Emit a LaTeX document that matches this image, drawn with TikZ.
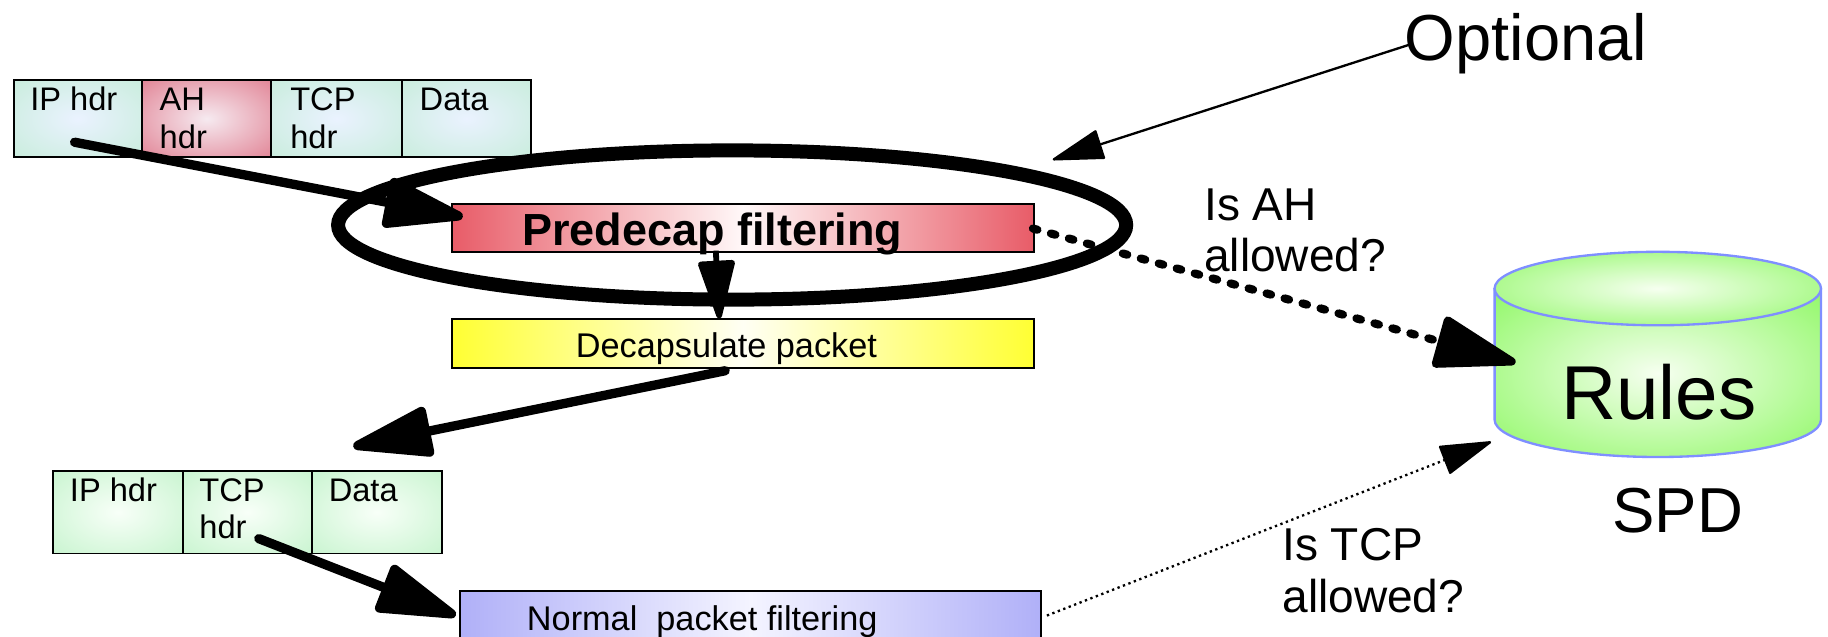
\documentclass[tikz,border=0pt]{standalone}
\usepackage{fontspec}
\setmainfont{Liberation Sans}
\usetikzlibrary{arrows.meta,shapes.geometric}
\newcommand{\fsz}[1]{\fontsize{#1}{#1}\selectfont}
\definecolor{cellgreen}{HTML}{BCEBCF}
\definecolor{cellmid}{HTML}{EAF2FF}
\definecolor{lowgreen}{HTML}{B6F0C0}
\definecolor{lowmid}{HTML}{F8FFF8}
\definecolor{ahred}{HTML}{D95C72}
\definecolor{ahmid}{HTML}{F6EAF0}
\definecolor{barred}{HTML}{E85C68}
\definecolor{barredmid}{HTML}{FFF8F8}
\definecolor{baryel}{HTML}{FFFF33}
\definecolor{baryelmid}{HTML}{FFFFF4}
\definecolor{barblue}{HTML}{B0B0F8}
\definecolor{barbluemid}{HTML}{F4F4FF}
\definecolor{cylgreen}{HTML}{66F52E}
\definecolor{cylmid}{HTML}{F6FFF0}
\definecolor{cylline}{HTML}{7F8FFF}
\pgfdeclareradialshading{shgreen}{\pgfpointorigin}{color(0bp)=(cellmid); color(50bp)=(cellgreen); color(75bp)=(cellgreen)}
\pgfdeclareradialshading{shred}{\pgfpointorigin}{color(0bp)=(ahmid); color(50bp)=(ahred); color(75bp)=(ahred)}
\pgfdeclareradialshading{shlow}{\pgfpointorigin}{color(0bp)=(lowmid); color(50bp)=(lowgreen); color(75bp)=(lowgreen)}
\pgfdeclareradialshading{shcyl}{\pgfpointorigin}{color(0bp)=(cylmid); color(50bp)=(cylgreen); color(75bp)=(cylgreen)}
\tikzset{
  box/.style={draw=black,line width=1.6pt,inner sep=0pt,anchor=north west},
  gcell/.style={box,shade,shading=shgreen},
  rcell/.style={box,shade,shading=shred},
  lcell/.style={box,shade,shading=shlow},
  redbar/.style={box,left color=barred,right color=barred,middle color=barredmid,minimum width=499pt,minimum height=41pt},
  yelbar/.style={box,left color=baryel,right color=baryel,middle color=baryelmid,minimum width=499pt,minimum height=42pt},
  bluebar/.style={box,left color=barblue,right color=barblue,middle color=barbluemid,minimum width=498pt,minimum height=60pt},
  cyl/.style={draw=cylline,line width=2pt,shade,shading=shcyl},
  txt/.style={anchor=base west,inner sep=0pt,outer sep=0pt,text=black},
  small/.style={txt,font=\fsz{28}},
  mid/.style={txt,font=\fsz{29.4}},
  note/.style={txt,font=\fsz{39.5}},
  bigarrow/.style={line width=8pt,line cap=round,-{Triangle[length=78pt,width=44pt,round]}},
  thinarrow/.style={line width=2pt,-{Triangle[length=46pt,width=26pt,round]}}
}
\begin{document}
\begin{tikzpicture}[x=1pt,y=-1pt]
\path[use as bounding box,clip] (0,0) rectangle (1568,546);
% top packet
\node[gcell,minimum width=110pt,minimum height=66pt] (c1) at (11,68) {};
\node[rcell,minimum width=111pt,minimum height=66pt] (c2) at (121,68) {};
\node[gcell,minimum width=112pt,minimum height=66pt] (c3) at (232,68) {};
\node[gcell,minimum width=111pt,minimum height=66pt] (c4) at (344,68) {};
\node[small] (t1) at (26,95) {IP hdr};
\node[small] (t2) at (137,95) {AH};
\node[small] (t3) at (137,127) {hdr};
\node[small] (t4) at (249,95) {TCP};
\node[small] (t5) at (249,127) {hdr};
\node[small] (t6) at (360,95) {Data};
% filters
\node[redbar] (pre) at (387,174) {};
\node[yelbar] (dec) at (387,273) {};
\node[bluebar] (nor) at (394,506) {};
\node[txt,font=\fsz{38.6}\bfseries] (tpre) at (448,211) {Predecap filtering};
\node[mid] (tdec) at (494,307) {Decapsulate packet};
\node[mid] (tnor) at (452,541) {Normal\ \ packet filtering};
% lower packet
\node[lcell,minimum width=111pt,minimum height=71pt] (l1) at (45,403) {};
\node[lcell,minimum width=111pt,minimum height=71pt] (l2) at (156,403) {};
\node[lcell,minimum width=111pt,minimum height=71pt] (l3) at (267,403) {};
\node[small] (u1) at (60,430) {IP hdr};
\node[small] (u2) at (171,430) {TCP};
\node[small] (u3) at (171,462) {hdr};
\node[small] (u4) at (282,430) {Data};
% database
\path[cyl]
  (1282,248) -- (1282,360) arc[start angle=180,end angle=0,x radius=140,y radius=32] -- (1562,248) -- cycle;
\node[cyl,ellipse,inner sep=0pt,minimum width=280pt,minimum height=63pt] (top) at (1422,247.5) {};
\node[txt,font=\fsz{65.5}] (rules) at (1339,360) {Rules};
\node[txt,font=\fsz{54.5}] (spd) at (1383,457) {SPD};
% ring
\node[draw=black,line width=12pt,ellipse,inner sep=0pt,minimum width=676pt,minimum height=128pt] (ring) at (628,193) {};
% labels
\node[txt,font=\fsz{55.8}] (opt) at (1205,52) {Optional};
\node[note] (q1) at (1033,189) {Is AH};
\node[note] (q2) at (1033,233) {allowed?};
\node[note] (q3) at (1100,481) {Is TCP};
\node[note] (q4) at (1100,525) {allowed?};
% connector ends
\coordinate (a0) at (64,122);
\coordinate (a1) at (397,186);
\coordinate (b0) at (614,215);
\coordinate (b1) at (617,273);
\coordinate (d0) at (622,318);
\coordinate (d1) at (303,383);
\coordinate (e0) at (222,462);
\coordinate (e1) at (391,528);
\coordinate (f0) at (886,196);
\coordinate (f1) at (1300,311);
\coordinate (g0) at (898,528);
\coordinate (g1) at (1279,379);
\coordinate (h0) at (1210,38);
\coordinate (h1) at (903,137);
\draw[bigarrow] (a0) -- (a1);
\draw[line width=5pt,-{Triangle[length=56pt,width=32pt,round]}] (b0) -- (b1);
\draw[bigarrow] (d0) -- (d1);
\draw[bigarrow] (e0) -- (e1);
\draw[line width=7pt,line cap=round,dash pattern=on 4pt off 12pt,-{Triangle[length=78pt,width=46pt,round]}] (f0) -- (f1);
\draw[thinarrow,dash pattern=on 2pt off 3pt] (g0) -- (g1);
\draw[thinarrow] (h0) -- (h1);
\end{tikzpicture}
\end{document}
